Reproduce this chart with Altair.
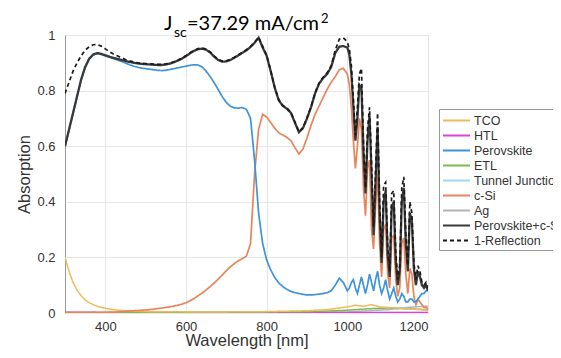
import altair as alt
import pandas as pd

# ---------------- data ----------------
WL_A = list(range(300, 1000, 10))          # 300 ... 990
WL_B = list(range(1000, 1205, 5))          # 1000 ... 1200
WL = WL_A + WL_B

TOTAL = [
    0.60, 0.66, 0.72, 0.78, 0.84, 0.885, 0.915, 0.93, 0.935, 0.932,
    0.927, 0.922, 0.918, 0.914, 0.91, 0.906, 0.903, 0.90, 0.898, 0.896,
    0.895, 0.894, 0.893, 0.892, 0.892, 0.894, 0.897, 0.902, 0.908, 0.915,
    0.924, 0.934, 0.943, 0.949, 0.951, 0.947, 0.937, 0.922, 0.91, 0.904,
    0.905, 0.91, 0.918, 0.927, 0.936, 0.945, 0.957, 0.972, 0.99, 0.955,
    0.925, 0.87, 0.81, 0.765, 0.745, 0.735, 0.72, 0.685, 0.65, 0.665,
    0.70, 0.74, 0.79, 0.825, 0.845, 0.86, 0.885, 0.935, 0.958, 0.96,
    0.955, 0.93, 0.86, 0.74, 0.62, 0.70, 0.82, 0.81, 0.58, 0.43,
    0.62, 0.71, 0.50, 0.28, 0.47, 0.67, 0.36, 0.18, 0.40, 0.44,
    0.21, 0.13, 0.38, 0.40, 0.19, 0.10, 0.15, 0.40, 0.45, 0.25,
    0.15, 0.36, 0.33, 0.16, 0.10, 0.15, 0.13, 0.10, 0.09, 0.10,
    0.08,
]

REFL = [
    0.79, 0.83, 0.87, 0.90, 0.925, 0.945, 0.958, 0.965, 0.966, 0.96,
    0.95, 0.94, 0.932, 0.925, 0.918, 0.912, 0.907, 0.903, 0.90, 0.898,
    0.897, 0.896, 0.895, 0.894, 0.894, 0.896, 0.899, 0.904, 0.91, 0.917,
    0.926, 0.936, 0.945, 0.951, 0.953, 0.949, 0.939, 0.924, 0.912, 0.906,
    0.907, 0.912, 0.92, 0.929, 0.938, 0.947, 0.959, 0.974, 0.992, 0.96,
    0.927, 0.872, 0.812, 0.767, 0.747, 0.737, 0.722, 0.687, 0.652, 0.667,
    0.702, 0.742, 0.792, 0.828, 0.848, 0.864, 0.89, 0.945, 0.985, 0.99,
    0.975, 0.95, 0.89, 0.77, 0.64, 0.74, 0.86, 0.88, 0.61, 0.45,
    0.66, 0.74, 0.54, 0.31, 0.51, 0.72, 0.40, 0.20, 0.46, 0.47,
    0.24, 0.15, 0.43, 0.44, 0.22, 0.12, 0.17, 0.45, 0.49, 0.28,
    0.17, 0.40, 0.36, 0.18, 0.12, 0.17, 0.15, 0.11, 0.10, 0.11,
    0.09,
]

PEROVSKITE = [
    0.598, 0.658, 0.718, 0.778, 0.838, 0.883, 0.913, 0.928, 0.933, 0.93,
    0.925, 0.92, 0.915, 0.91, 0.905, 0.899, 0.893, 0.888, 0.884, 0.881,
    0.879, 0.877, 0.875, 0.873, 0.872, 0.873, 0.876, 0.879, 0.882, 0.885,
    0.888, 0.891, 0.893, 0.892, 0.885, 0.87, 0.85, 0.828, 0.803, 0.778,
    0.757, 0.744, 0.738, 0.737, 0.739, 0.732, 0.70, 0.55, 0.36, 0.25,
    0.19, 0.155, 0.128, 0.108, 0.095, 0.085, 0.078, 0.073, 0.07, 0.067,
    0.065, 0.065, 0.066, 0.068, 0.07, 0.073, 0.08, 0.10, 0.125, 0.11,
    0.08, 0.09, 0.11, 0.12, 0.09, 0.07, 0.10, 0.13, 0.10, 0.07,
    0.10, 0.14, 0.11, 0.08, 0.12, 0.15, 0.10, 0.07, 0.09, 0.12,
    0.08, 0.05, 0.07, 0.09, 0.06, 0.04, 0.05, 0.07, 0.06, 0.04,
    0.04, 0.05, 0.05, 0.04, 0.04, 0.05, 0.06, 0.07, 0.07, 0.08,
    0.08,
]

CSI = [
    0.001, 0.001, 0.001, 0.001, 0.001, 0.001, 0.001, 0.002, 0.002, 0.002,
    0.002, 0.003, 0.003, 0.004, 0.005, 0.006, 0.007, 0.008, 0.009, 0.01,
    0.011, 0.012, 0.014, 0.016, 0.018, 0.02, 0.022, 0.025, 0.028, 0.032,
    0.037, 0.044, 0.052, 0.062, 0.072, 0.083, 0.095, 0.108, 0.122, 0.137,
    0.152, 0.166, 0.178, 0.188, 0.196, 0.205, 0.25, 0.50, 0.66, 0.715,
    0.705, 0.685, 0.665, 0.648, 0.64, 0.632, 0.62, 0.595, 0.572, 0.59,
    0.63, 0.675, 0.715, 0.745, 0.775, 0.805, 0.83, 0.85, 0.875, 0.88,
    0.86, 0.82, 0.74, 0.62, 0.52, 0.60, 0.70, 0.66, 0.45, 0.35,
    0.52, 0.55, 0.30, 0.23, 0.38, 0.50, 0.25, 0.13, 0.30, 0.32,
    0.14, 0.09, 0.27, 0.28, 0.12, 0.06, 0.09, 0.25, 0.27, 0.14,
    0.07, 0.16, 0.14, 0.06, 0.03, 0.05, 0.04, 0.03, 0.02, 0.02,
    0.015,
]

TCO_WL = [300, 310, 320, 330, 340, 350, 360, 370, 380, 390, 400, 420, 450, 500,
          600, 700, 800, 900, 950, 980, 1000, 1020, 1040, 1060, 1080, 1100,
          1120, 1150, 1180, 1200]
TCO = [0.20, 0.15, 0.11, 0.082, 0.062, 0.047, 0.037, 0.03, 0.024, 0.02, 0.017,
       0.012, 0.008, 0.005, 0.004, 0.004, 0.005, 0.008, 0.012, 0.018, 0.022,
       0.028, 0.024, 0.03, 0.022, 0.02, 0.018, 0.015, 0.012, 0.01]

SMALL_WL = [300, 400, 500, 600, 700, 800, 900, 950, 1000, 1050, 1100, 1150, 1200]
ETL = [0.002, 0.002, 0.002, 0.003, 0.003, 0.004, 0.005, 0.007, 0.01, 0.015, 0.018, 0.015, 0.012]
HTL = [0.003, 0.002, 0.002, 0.002, 0.002, 0.002, 0.002, 0.002, 0.002, 0.002, 0.002, 0.002, 0.002]
TUNNEL = [0.001, 0.001, 0.001, 0.001, 0.001, 0.001, 0.001, 0.001, 0.002, 0.002, 0.002, 0.002, 0.002]
AG = [0.001, 0.001, 0.001, 0.001, 0.001, 0.002, 0.002, 0.003, 0.004, 0.008, 0.012, 0.02, 0.025]

ORDER = ["TCO", "HTL", "Perovskite", "ETL", "Tunnel Junction", "c-Si", "Ag",
         "Perovskite+c-Si", "1-Reflection"]
COLORS = ["#EDBB5E", "#E040E0", "#3D94D8", "#7DBB4B", "#9FD5F5", "#E8845A",
          "#B4B4B4", "#3A3A3A", "#1A1A1A"]
DASHES = [[1, 0]] * 8 + [[4, 3]]
WIDTHS = {"TCO": 1.5, "HTL": 1.5, "Perovskite": 1.7, "ETL": 1.5,
          "Tunnel Junction": 1.5, "c-Si": 1.7, "Ag": 1.5,
          "Perovskite+c-Si": 2.3, "1-Reflection": 1.7}
DRAW_ORDER = ["Ag", "Tunnel Junction", "HTL", "ETL", "TCO", "c-Si",
              "Perovskite", "Perovskite+c-Si", "1-Reflection"]

TITLE_PARTS = ["J", "sc", "=37.29 mA/cm", "2"]

# ---------------- build table ----------------
rows = []


def add(name, wls, vals):
    assert len(wls) == len(vals), name
    for w, v in zip(wls, vals):
        rows.append({"wl": w, "A": v, "series": name})


add("TCO", TCO_WL, TCO)
add("HTL", SMALL_WL, HTL)
add("Perovskite", WL, PEROVSKITE)
add("ETL", SMALL_WL, ETL)
add("Tunnel Junction", SMALL_WL, TUNNEL)
add("c-Si", WL, CSI)
add("Ag", SMALL_WL, AG)
add("Perovskite+c-Si", WL, TOTAL)
add("1-Reflection", WL, REFL)
df = pd.DataFrame(rows)

W, H = 363, 278

legend = alt.Legend(
    title=None, orient="none", legendX=374, legendY=74,
    symbolType="M-1,0L2.6,0", symbolSize=225, symbolStrokeWidth=2,
    labelFontSize=12.5, labelFont="Liberation Sans", labelColor="#333",
    rowPadding=-0.6, padding=3, strokeColor="#999", fillColor="white",
    labelOffset=15, labelLimit=300,
)

x = alt.X("wl:Q", scale=alt.Scale(domain=[300, 1200], nice=False, zero=False),
          axis=alt.Axis(values=[400, 600, 800, 1000, 1200], format="d",
                        title="Wavelength [nm]",
                        ticks=False, labelPadding=7, titleY=32,
                        titleBaseline="alphabetic", grid=True))
y = alt.Y("A:Q", scale=alt.Scale(domain=[0, 1], nice=False),
          axis=alt.Axis(values=[0, 0.2, 0.4, 0.6, 0.8, 1], format="~g",
                        title="Absorption", ticks=False, labelPadding=10,
                        titleX=-36, titleBaseline="alphabetic", grid=True))
color = alt.Color("series:N", scale=alt.Scale(domain=ORDER, range=COLORS),
                  sort=ORDER, legend=legend)
dash = alt.StrokeDash("series:N", scale=alt.Scale(domain=ORDER, range=DASHES),
                      sort=ORDER, legend=legend)

layers = []
for s in DRAW_ORDER:
    layers.append(
        alt.Chart(df).transform_filter(alt.datum.series == s)
        .mark_line(strokeWidth=WIDTHS[s], clip=True)
        .encode(x=x, y=y, color=color, strokeDash=dash)
    )

tdf = pd.DataFrame({"t": TITLE_PARTS})
title_specs = [
    (TITLE_PARTS[0], 99, -5, 20),
    (TITLE_PARTS[1], 109, 2, 14),
    (TITLE_PARTS[2], 122, -5, 20),
    (TITLE_PARTS[3], 256, -12, 13),
]
for txt, px, py, fs in title_specs:
    layers.append(
        alt.Chart(tdf).transform_filter(alt.datum.t == txt)
        .mark_text(font="Lato", fontSize=fs, align="left", baseline="alphabetic",
                   color="#000")
        .encode(text="t:N", x=alt.value(px), y=alt.value(py))
    )

chart = alt.layer(*layers).properties(
    width=W, height=H,
    autosize=alt.AutoSizeParams(type="none"),
    padding={"left": 57, "top": 27, "right": 125, "bottom": 37},
    background="white",
).configure_view(
    stroke="#999", strokeWidth=1
).configure_axis(
    labelFont="Liberation Sans", labelFontSize=13, labelColor="#333",
    titleFont="Liberation Sans", titleFontSize=16.5, titleFontWeight="normal",
    titleColor="#333", domain=False, gridColor="#e6e6e6", gridWidth=1,
)

chart.save("out.html", embed_options={"renderer": "svg", "actions": False})
